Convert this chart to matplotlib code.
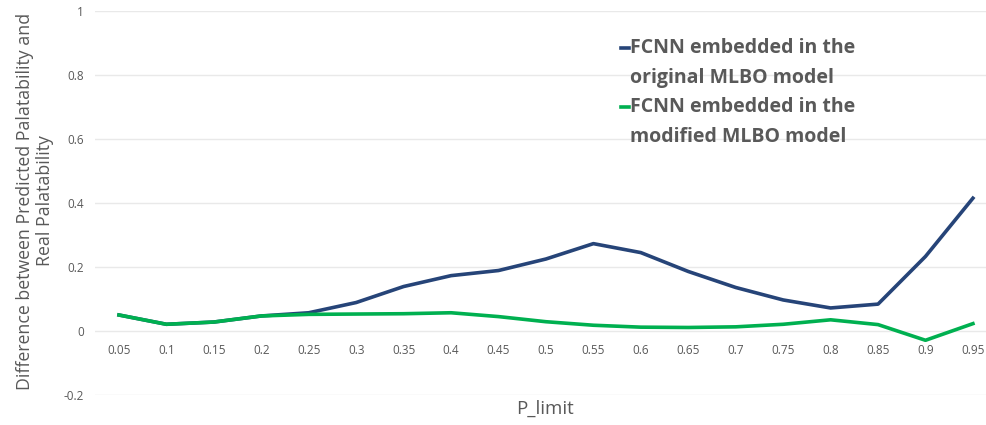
import matplotlib
matplotlib.use("Agg")
import matplotlib.pyplot as plt
from matplotlib.lines import Line2D
import numpy as np

categories = ["0.05", "0.1", "0.15", "0.2", "0.25", "0.3", "0.35", "0.4", "0.45", "0.5",
              "0.55", "0.6", "0.65", "0.7", "0.75", "0.8", "0.85", "0.9", "0.95"]
original = [0.050, 0.021, 0.028, 0.047, 0.057, 0.089, 0.139, 0.173, 0.189, 0.225,
            0.273, 0.245, 0.186, 0.136, 0.097, 0.072, 0.084, 0.233, 0.415]
modified = [0.050, 0.021, 0.028, 0.047, 0.052, 0.053, 0.054, 0.057, 0.045, 0.029,
            0.018, 0.012, 0.011, 0.013, 0.021, 0.035, 0.020, -0.029, 0.023]
yticks = [-0.2, 0, 0.2, 0.4, 0.6, 0.8, 1]
ytick_labels = ["-0.2", "0", "0.2", "0.4", "0.6", "0.8", "1"]
labels = ["FCNN embedded in the\noriginal MLBO model",
          "FCNN embedded in the\nmodified MLBO model"]
colors = ["#264478", "#00B050"]

plt.rcParams['font.family'] = ['Open Sans', 'DejaVu Sans']
gray = "#595959"

W, H = 987, 425
fig = plt.figure(figsize=(W / 100, H / 100), dpi=100)
ax = fig.add_axes([95 / W, (H - 395) / H, (W - 95) / W, 384 / H])

x = np.arange(len(categories))
ax.plot(x, original, color=colors[0], lw=2.6, zorder=3)
ax.plot(x, modified, color=colors[1], lw=2.6, zorder=4)

step = 47.44
ax.set_xlim(-24 / step, (W - 119) / step)
ax.set_ylim(-0.2, 1.0)
ax.set_yticks(yticks)
ax.set_yticklabels(ytick_labels)
ax.set_xticks(x)
ax.set_xticklabels(categories)
ax.grid(axis='y', color="#E9E9E9", lw=1)
ax.set_axisbelow(True)
for s in ax.spines.values():
    s.set_visible(False)
ax.spines['bottom'].set_position(('data', 0))
ax.tick_params(axis='both', length=0, colors=gray, labelsize=8.5)
ax.tick_params(axis='x', pad=9)
ax.tick_params(axis='y', pad=8)

fig.text(545 / W, (H - 409) / H, "P_limit", ha='center', va='center', fontsize=13.5, color=gray)
fig.text(35 / W, (H - 201) / H, "Difference between Predicted Palatability and\nReal Palatability",
         ha='center', va='center', rotation=90, fontsize=12.8, color=gray, linespacing=1.15)

# legend (manual, Excel style: short dash before first line)
entry_tops = [48, 107]
for lab, col, yc in zip(labels, colors, entry_tops):
    l1, l2 = lab.split("\n")
    fig.text(630 / W, (H - yc) / H, l1, ha='left', va='center', fontsize=14, fontweight='bold', color=gray)
    fig.text(630 / W, (H - yc - 29.5) / H, l2, ha='left', va='center', fontsize=14, fontweight='bold', color=gray)
    fig.add_artist(Line2D([621 / W, 629 / W], [(H - yc) / H] * 2, color=col, lw=2.6,
                          transform=fig.transFigure))

fig.savefig("out.png", dpi=100)
